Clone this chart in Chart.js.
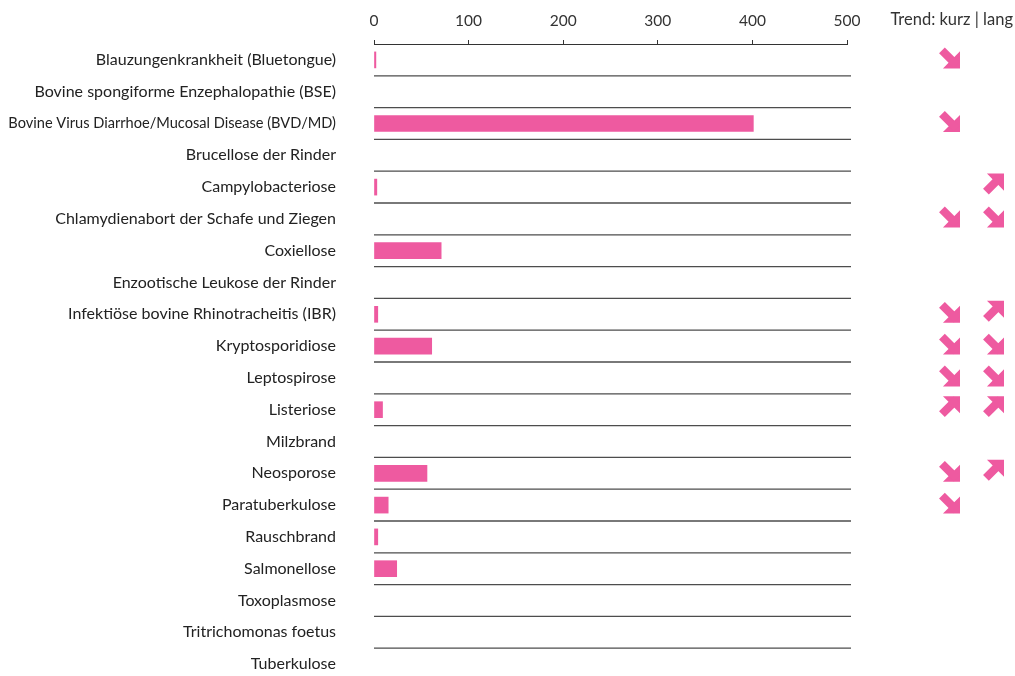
<!DOCTYPE html>
<html>
<head>
<meta charset="utf-8">
<script src="https://cdn.jsdelivr.net/npm/chart.js@4/dist/chart.umd.min.js"></script>
<style>
    html, body { margin: 0; padding: 0; background: #fff; overflow: hidden; }
    canvas { display: block; }
</style>
</head>
<body>
<canvas id="grafico" width="1015" height="680"></canvas>
<script>
// Datos del gráfico
const categorias = [
    "Blauzungenkrankheit (Bluetongue)",
    "Bovine spongiforme Enzephalopathie (BSE)",
    "Bovine Virus Diarrhoe/Mucosal Disease (BVD/MD)",
    "Brucellose der Rinder",
    "Campylobacteriose",
    "Chlamydienabort der Schafe und Ziegen",
    "Coxiellose",
    "Enzootische Leukose der Rinder",
    "Infektiöse bovine Rhinotracheitis (IBR)",
    "Kryptosporidiose",
    "Leptospirose",
    "Listeriose",
    "Milzbrand",
    "Neosporose",
    "Paratuberkulose",
    "Rauschbrand",
    "Salmonellose",
    "Toxoplasmose",
    "Tritrichomonas foetus",
    "Tuberkulose"
];
const valores = [2, 0, 401, 0, 3, 0, 71, 0, 4, 61, 0, 9, 0, 56, 15, 4, 24, 0, 0, 0];
const trendKurz = ["down", null, "down", null, null, "down", null, null, "down", "down", "down", "up", null, "down", "down", null, null, null, null, null];
const trendLang = [null, null, null, null, "up", "down", null, null, "up", "down", "down", "up", null, "up", null, null, null, null, null, null];
const ticksX = [0, 100, 200, 300, 400, 500];

const ROSA = "#ee5aa0";
const FUENTE = "Lato, 'Open Sans', sans-serif";

// Flecha gruesa (abajo-derecha o arriba-derecha) dentro de una caja de 2h x 2h
function dibujarFlecha(ctx, cx, cy, dir) {
    const h = 11;
    const s = dir === "up" ? -1 : 1;
    const t = 0.62;   // grosor de los brazos de la punta
    const p = (x, y) => [cx + x * h, cy + y * h * s];

    ctx.save();
    ctx.fillStyle = ROSA;
    ctx.strokeStyle = ROSA;

    // punta en forma de L
    const punta = [p(1, -0.55), p(1, 1), p(-0.55, 1), p(-0.55 + t, 1 - t), p(1 - t, 1 - t), p(1 - t, -0.55 + t)];
    ctx.beginPath();
    punta.forEach(([x, y], i) => i ? ctx.lineTo(x, y) : ctx.moveTo(x, y));
    ctx.closePath();
    ctx.fill();

    // asta diagonal
    ctx.lineWidth = 0.74 * h;
    ctx.lineCap = "butt";
    ctx.beginPath();
    ctx.moveTo(...p(-0.64, -0.64));
    ctx.lineTo(...p(0.7, 0.7));
    ctx.stroke();
    ctx.restore();
}

const pluginExtras = {
    id: "extras",
    beforeDatasetsDraw(chart) {
        const ctx = chart.ctx;
        const y = chart.scales.y;
        const area = chart.chartArea;
        ctx.save();
        ctx.strokeStyle = "#4d4d4d";
        ctx.lineWidth = 1.3;
        for (let i = 0; i < categorias.length - 1; i++) {
            const yy = (y.getPixelForValue(i) + y.getPixelForValue(i + 1)) / 2;
            ctx.beginPath();
            ctx.moveTo(area.left, yy);
            ctx.lineTo(area.right + 4, yy);
            ctx.stroke();
        }
        ctx.restore();
    },
    afterDraw(chart) {
        const ctx = chart.ctx;
        const y = chart.scales.y;
        categorias.forEach((c, i) => {
            const yy = y.getPixelForValue(i) - 2.5;
            if (trendKurz[i]) dibujarFlecha(ctx, 949, yy, trendKurz[i]);
            if (trendLang[i]) dibujarFlecha(ctx, 993, yy, trendLang[i]);
        });
        ctx.save();
        ctx.fillStyle = "#333";
        ctx.font = "16.5px " + FUENTE;
        ctx.textAlign = "right";
        ctx.textBaseline = "middle";
        ctx.fillText("Trend: kurz | lang", 1013, 20);
        ctx.restore();
    }
};

new Chart(document.getElementById("grafico"), {
    type: "bar",
    data: {
        labels: categorias,
        datasets: [{
            data: valores.map(v => v || null),
            backgroundColor: ROSA,
            barThickness: 16,
            borderWidth: 0
        }]
    },
    options: {
        indexAxis: "y",
        responsive: false,
        animation: false,
        layout: { padding: { left: 0, right: 168, top: 0, bottom: 0 } },
        plugins: {
            legend: { display: false },
            tooltip: { enabled: false }
        },
        scales: {
            x: {
                position: "top",
                min: 0,
                max: 500,
                afterBuildTicks: scale => { scale.ticks = ticksX.map(v => ({ value: v })); },
                afterFit: scale => { scale.height = 44; },
                ticks: { color: "#333", font: { family: FUENTE, size: 15.5 }, padding: 10, maxRotation: 0 },
                grid: { drawOnChartArea: false, tickLength: 4, color: "#333", tickColor: "#333" },
                border: { color: "#333", width: 1 }
            },
            y: {
                // ancho fijo y sin relleno extra arriba/abajo (el padding de ticks lo añadiría)
                afterFit: scale => {
                    scale.width = 374;
                    scale.paddingTop = 0;
                    scale.paddingBottom = 0;
                },
                ticks: {
                    color: "#222",
                    // la etiqueta BVD/MD va más apretada en el original
                    font: ctx => ({ family: FUENTE, size: ctx.index === 2 ? 14.6 : 16 }),
                    padding: 38,
                    autoSkip: false
                },
                grid: { display: false, drawTicks: false },
                border: { display: false }
            }
        }
    },
    plugins: [pluginExtras]
});
</script>
</body>
</html>
